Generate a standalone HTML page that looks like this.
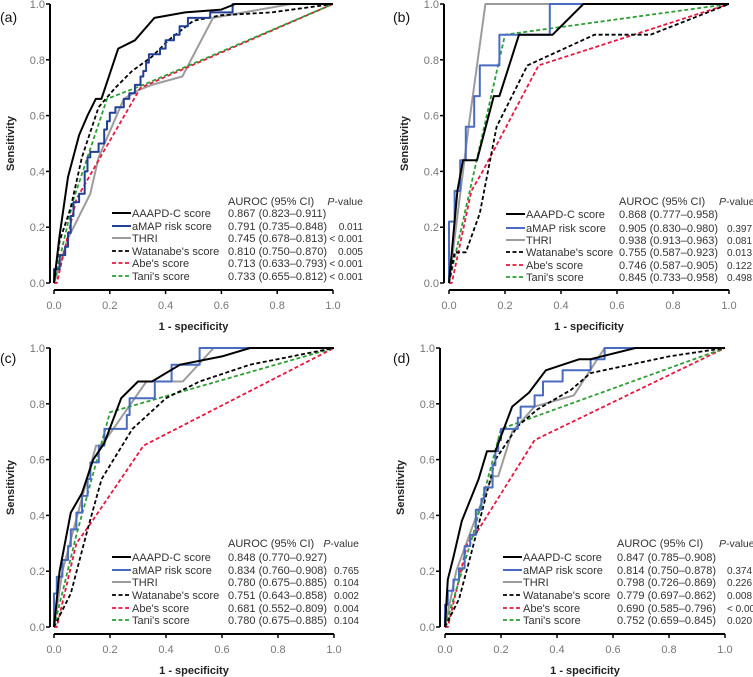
<!DOCTYPE html>
<html><head><meta charset="utf-8"><style>
html,body{margin:0;padding:0;background:#fff;}
svg{display:block;font-family:"Liberation Sans",Arial,sans-serif;}
</style></head><body>
<svg id="fig" width="753" height="677" viewBox="0 0 753 677" xmlns="http://www.w3.org/2000/svg"></svg>
<script>
const xTicks = [0, 0.2, 0.4, 0.6, 0.8, 1.0];
const yTicks = [0, 0.2, 0.4, 0.6, 0.8, 1.0];
const seriesNames = ["AAAPD-C score","aMAP risk score","THRI","Watanabe's score","Abe's score","Tani's score"];
// panel a
const aAAAPD = [[0,0],[0.02,0.17],[0.05,0.38],[0.09,0.53],[0.12,0.6],[0.15,0.66],[0.17,0.66],[0.2,0.75],[0.23,0.84],[0.29,0.87],[0.36,0.95],[0.47,0.97],[0.6,0.98],[0.65,1],[1,1]];
const aAMAP = [[0,0],[0,0.05],[0.02,0.05],[0.02,0.1],[0.04,0.1],[0.04,0.13],[0.05,0.13],[0.05,0.18],[0.06,0.18],[0.06,0.24],[0.07,0.24],[0.07,0.29],[0.09,0.29],[0.09,0.32],[0.11,0.32],[0.11,0.4],[0.12,0.4],[0.12,0.45],[0.13,0.45],[0.13,0.47],[0.16,0.47],[0.16,0.5],[0.18,0.5],[0.18,0.55],[0.19,0.55],[0.19,0.58],[0.2,0.58],[0.2,0.61],[0.22,0.61],[0.22,0.63],[0.25,0.63],[0.25,0.66],[0.27,0.66],[0.27,0.68],[0.29,0.68],[0.29,0.71],[0.31,0.71],[0.31,0.74],[0.32,0.74],[0.32,0.76],[0.33,0.76],[0.33,0.79],[0.34,0.79],[0.34,0.82],[0.38,0.82],[0.38,0.84],[0.4,0.84],[0.4,0.87],[0.43,0.87],[0.43,0.89],[0.45,0.89],[0.45,0.92],[0.48,0.92],[0.48,0.95],[0.56,0.95],[0.56,0.97],[0.64,0.97],[0.64,1],[1,1]];
const aTHRI = [[0,0],[0.05,0.16],[0.13,0.32],[0.16,0.45],[0.25,0.66],[0.3,0.69],[0.35,0.71],[0.46,0.74],[0.57,0.95],[0.85,1],[1,1]];
const aWat = [[0,0],[0.02,0.15],[0.06,0.27],[0.1,0.45],[0.16,0.63],[0.22,0.7],[0.28,0.76],[0.35,0.81],[0.41,0.87],[0.5,0.94],[0.6,0.96],[0.78,0.97],[1,1]];
const aAbe = [[0,0],[0.01,0],[0.08,0.3],[0.16,0.44],[0.31,0.7],[1,1]];
const aTani = [[0,0],[0.07,0.3],[0.19,0.66],[0.32,0.71],[1,1]];
const aAuroc = ["0.867 (0.823–0.911)","0.791 (0.735–0.848)","0.745 (0.678–0.813)","0.810 (0.750–0.870)","0.713 (0.633–0.793)","0.733 (0.655–0.812)"];
const aP = ["","0.011","< 0.001","0.005","< 0.001","< 0.001"];
// panel b
const bAAAPD = [[0,0],[0.03,0.33],[0.05,0.44],[0.1,0.44],[0.16,0.67],[0.18,0.67],[0.25,0.89],[0.37,0.89],[0.48,1],[1,1]];
const bAMAP = [[0,0],[0,0.22],[0.02,0.22],[0.02,0.33],[0.04,0.33],[0.04,0.44],[0.06,0.44],[0.06,0.56],[0.09,0.56],[0.09,0.67],[0.11,0.67],[0.11,0.78],[0.18,0.78],[0.18,0.89],[0.36,0.89],[0.36,1],[1,1]];
const bTHRI = [[0,0],[0.07,0.56],[0.13,1],[1,1]];
const bWat = [[0,0],[0.02,0.11],[0.06,0.11],[0.11,0.25],[0.17,0.56],[0.28,0.78],[0.52,0.89],[0.72,0.89],[1,1]];
const bAbe = [[0,0],[0.01,0],[0.08,0.33],[0.12,0.4],[0.32,0.78],[1,1]];
const bTani = [[0,0],[0.2,0.89],[1,1]];
const bAuroc = ["0.868 (0.777–0.958)","0.905 (0.830–0.980)","0.938 (0.913–0.963)","0.755 (0.587–0.923)","0.746 (0.587–0.905)","0.845 (0.733–0.958)"];
const bP = ["","0.397","0.081","0.013","0.122","0.498"];
// panel c
const cAAAPD = [[0,0],[0.02,0.2],[0.06,0.41],[0.1,0.48],[0.14,0.6],[0.18,0.66],[0.24,0.82],[0.3,0.88],[0.35,0.88],[0.45,0.94],[0.6,0.97],[0.7,1],[1,1]];
const cAMAP = [[0,0],[0,0.12],[0.01,0.12],[0.01,0.18],[0.03,0.18],[0.03,0.24],[0.05,0.24],[0.05,0.29],[0.06,0.29],[0.06,0.35],[0.08,0.35],[0.08,0.41],[0.1,0.41],[0.1,0.47],[0.12,0.47],[0.12,0.53],[0.13,0.53],[0.13,0.59],[0.16,0.59],[0.16,0.65],[0.18,0.65],[0.18,0.71],[0.26,0.71],[0.26,0.76],[0.27,0.76],[0.27,0.82],[0.36,0.82],[0.36,0.88],[0.42,0.88],[0.42,0.94],[0.52,0.94],[0.52,1],[1,1]];
const cTHRI = [[0,0],[0.03,0.2],[0.07,0.35],[0.15,0.65],[0.17,0.65],[0.33,0.88],[0.46,0.88],[0.57,1],[1,1]];
const cWat = [[0,0],[0.06,0.12],[0.12,0.35],[0.17,0.53],[0.28,0.71],[0.4,0.82],[0.52,0.88],[0.7,0.94],[1,1]];
const cAbe = [[0,0],[0.01,0],[0.08,0.3],[0.13,0.37],[0.32,0.65],[1,1]];
const cTani = [[0,0],[0.08,0.33],[0.2,0.77],[1,1]];
const cAuroc = ["0.848 (0.770–0.927)","0.834 (0.760–0.908)","0.780 (0.675–0.885)","0.751 (0.643–0.858)","0.681 (0.552–0.809)","0.780 (0.675–0.885)"];
const cP = ["","0.765","0.104","0.002","0.004","0.104"];
// panel d
const dAAAPD = [[0,0],[0.01,0.17],[0.03,0.25],[0.06,0.38],[0.12,0.53],[0.15,0.63],[0.18,0.63],[0.24,0.79],[0.3,0.84],[0.36,0.92],[0.48,0.96],[0.52,0.96],[0.68,1],[1,1]];
const dAMAP = [[0,0],[0,0.08],[0.01,0.08],[0.01,0.13],[0.03,0.13],[0.03,0.17],[0.05,0.17],[0.05,0.21],[0.07,0.21],[0.07,0.29],[0.09,0.29],[0.09,0.33],[0.11,0.33],[0.11,0.42],[0.13,0.42],[0.13,0.46],[0.14,0.46],[0.14,0.5],[0.17,0.5],[0.17,0.58],[0.18,0.58],[0.18,0.63],[0.19,0.63],[0.19,0.67],[0.2,0.67],[0.2,0.71],[0.26,0.71],[0.26,0.75],[0.27,0.75],[0.27,0.79],[0.32,0.79],[0.32,0.83],[0.35,0.83],[0.35,0.88],[0.42,0.88],[0.42,0.92],[0.52,0.92],[0.52,0.96],[0.57,0.96],[0.57,1],[1,1]];
const dTHRI = [[0,0],[0.04,0.2],[0.12,0.42],[0.17,0.54],[0.19,0.54],[0.24,0.7],[0.32,0.79],[0.46,0.83],[0.57,1],[1,1]];
const dWat = [[0,0],[0.05,0.1],[0.09,0.25],[0.18,0.6],[0.26,0.72],[0.33,0.78],[0.45,0.85],[0.52,0.91],[0.8,0.97],[1,1]];
const dAbe = [[0,0],[0.01,0],[0.08,0.3],[0.12,0.35],[0.32,0.67],[1,1]];
const dTani = [[0,0],[0.1,0.33],[0.2,0.71],[1,1]];
const dAuroc = ["0.847 (0.785–0.908)","0.814 (0.750–0.878)","0.798 (0.726–0.869)","0.779 (0.697–0.862)","0.690 (0.585–0.796)","0.752 (0.659–0.845)"];
const dP = ["","0.374","0.226","0.008","< 0.001","0.020"];

const NS = "http://www.w3.org/2000/svg";
const svg = document.getElementById('fig');
function mk(tag, attrs, parent){const e=document.createElementNS(NS,tag);for(const k in attrs)e.setAttribute(k,attrs[k]);(parent||svg).appendChild(e);return e;}

const panels = [
 {id:'a',x0:54,x1:333,y1:4,y0:283,ax:50,lab:[0,22],legX:112,aucX:228,pX:363,pAnchor:'end',hdrY:205,rows:[217,230,242,255,267,280],series:[aAAAPD,aAMAP,aTHRI,aWat,aAbe,aTani],auc:aAuroc,p:aP,blue:'#223f94'},
 {id:'b',x0:449,x1:729,y1:4,y0:283,ax:444,lab:[393,22],legX:506,aucX:619,pX:719,pAnchor:'start',hdrY:205,rows:[218,232,244,256,269,281],series:[bAAAPD,bAMAP,bTHRI,bWat,bAbe,bTani],auc:bAuroc,p:bP,blue:'#4a6cc0'},
 {id:'c',x0:54,x1:334,y1:348,y0:627,ax:50,lab:[0,363],legX:112,aucX:228,pX:359,pAnchor:'end',hdrY:547,rows:[561,574,586,599,612,624],series:[cAAAPD,cAMAP,cTHRI,cWat,cAbe,cTani],auc:cAuroc,p:cP,blue:'#4a6cc0'},
 {id:'d',x0:445,x1:725,y1:348,y0:627,ax:440,lab:[393,363],legX:503,aucX:617,pX:719,pAnchor:'start',hdrY:547,rows:[561,574,586,599,612,624],series:[dAAAPD,dAMAP,dTHRI,dWat,dAbe,dTani],auc:dAuroc,p:dP,blue:'#4a6cc0'}
];
const styles = [
 {c:'#000',d:null,w:2},{c:null,d:null,w:2},{c:'#9c9c9c',d:null,w:2},
 {c:'#000',d:'4,2.5',w:1.8},{c:'#e8173f',d:'4,2.5',w:1.8},{c:'#2e9e35',d:'4,2.5',w:1.8}
];
const drawOrder=[2,4,5,3,1,0];

panels.forEach(p=>{
  const sx=v=>p.x0+v*(p.x1-p.x0);
  const sy=v=>p.y0-v*(p.y0-p.y1);
  const g=mk('g',{});
  
  
  const bot=p.y0+7;
  const ya=mk('line',{x1:p.ax,y1:sy(1),x2:p.ax,y2:sy(0),stroke:'#000','stroke-width':2},g);
  
  
  const xa=mk('line',{x1:sx(0),y1:bot,x2:sx(1),y2:bot,stroke:'#000','stroke-width':2},g);
  
  
  yTicks.forEach(t=>{
    mk('line',{x1:p.ax-4,y1:sy(t),x2:p.ax,y2:sy(t),stroke:'#000','stroke-width':1.5},g);
    const tx=mk('text',{x:p.ax-5,y:sy(t)+4,'font-size':11,fill:'#777','text-anchor':'end'},g);
    tx.textContent=t.toFixed(1);
    
    
  });
  xTicks.forEach(t=>{
    mk('line',{x1:sx(t),y1:bot,x2:sx(t),y2:bot+4,stroke:'#000','stroke-width':1.5},g);
    const tx=mk('text',{x:sx(t),y:bot+19,'font-size':11,fill:'#777','text-anchor':'middle'},g);
    tx.textContent=t.toFixed(1);
    
    
  });
  const xt=mk('text',{x:(sx(0)+sx(1))/2,y:bot+40,'font-size':11,'font-weight':'bold',fill:'#222','text-anchor':'middle'},g);
  xt.textContent='1 - specificity';
  
  
  const yc=(sy(0)+sy(1))/2, yx=p.ax-36;
  const yt=mk('text',{x:yx,y:yc,'font-size':11,'font-weight':'bold',fill:'#222','text-anchor':'middle',transform:`rotate(-90 ${yx} ${yc})`},g);
  yt.textContent='Sensitivity';
  
  
  const pl=mk('text',{x:p.lab[0],y:p.lab[1],'font-size':14,fill:'#111'},g);
  pl.textContent='('+p.id+')';
  
  
  drawOrder.forEach(i=>{
    const st=styles[i];
    const pts=p.series[i].map(q=>sx(q[0]).toFixed(1)+','+sy(q[1]).toFixed(1)).join(' ');
    const a={points:pts,fill:'none',stroke:st.c||p.blue,'stroke-width':st.w,'stroke-linejoin':'round'};
    if(st.d)a['stroke-dasharray']=st.d;
    const l=mk('polyline',a,g);
    
    
  });
  const h1=mk('text',{x:p.aucX,y:p.hdrY,'font-size':11,fill:'#333'},g);
  h1.textContent='AUROC (95% CI)';
  
  
  const h2=mk('text',{x:p.pX,y:p.hdrY,'font-size':10.5,fill:'#333','text-anchor':p.pAnchor},g);
  h2.innerHTML='<tspan font-style="italic">P</tspan>-value';
  
  
  p.rows.forEach((ry,i)=>{
    const st=styles[i];
    const a={x1:p.legX,y1:ry-4,x2:p.legX+19,y2:ry-4,stroke:st.c||p.blue,'stroke-width':st.w};
    if(st.d)a['stroke-dasharray']=st.d;
    const ll=mk('line',a,g);
    
    
    const t=mk('text',{x:p.legX+20,y:ry,'font-size':11,fill:'#333'},g);
    t.textContent=seriesNames[i];
    
    
    const t2=mk('text',{x:p.aucX,y:ry,'font-size':11,fill:'#333'},g);
    t2.textContent=p.auc[i];
    
    
    const px = p.pAnchor==='end'?p.pX:p.pX+8;
    const t3=mk('text',{x:px,y:ry,'font-size':10,fill:'#333','text-anchor':p.pAnchor==='end'?'end':'start'},g);
    t3.textContent=p.p[i];
    
    
  });
});
</script>
</body></html>
